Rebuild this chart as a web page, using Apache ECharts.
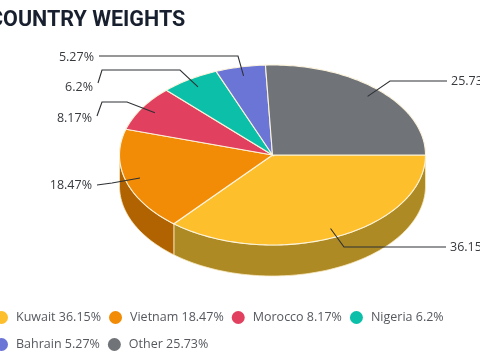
<!DOCTYPE html>
<html>
<head>
<meta charset="utf-8">
<style>
  html, body { margin: 0; padding: 0; background: #fff; }
  #chart { width: 480px; height: 360px; }
</style>
<script src="https://cdn.jsdelivr.net/npm/echarts@6/dist/echarts.min.js"></script>
</head>
<body>
<div id="chart"></div>
<script>
// chart data
const countries = ["Kuwait", "Vietnam", "Morocco", "Nigeria", "Bahrain", "Other"];
const weights = [36.15, 18.47, 8.17, 6.2, 5.27, 25.73];

// colours per slice
const topColors = ["#fdc02c", "#f28b05", "#e2405f", "#0bbfa9", "#6a75d6", "#707377"];
const sideColors = ["#ae8a24", "#b06300", "#a02c44", "#088a7a", "#4b5398", "#505255"];

// pie geometry (flattened disc)
const cx = 272.5, cy = 155, rx = 153, ry = 90, depth = 31;

// leader lines: elbow points after the slice anchor, then where the text sits
const leaders = [
  { points: [[344, 247], [446, 247]], text: [450, 247], align: "left" },
  { start: [140, 178], points: [[112, 183], [97, 185]], text: [92, 185], align: "right" },
  { points: [[127, 102], [102, 102], [97, 116]], text: [92, 118], align: "right" },
  { points: [[180, 70], [102, 70], [98, 83]], text: [93, 87], align: "right" },
  { points: [[238, 56], [99, 56]], text: [94, 57], align: "right" },
  { points: [[390, 81], [447, 81]], text: [451, 81], align: "left" },
];

const total = weights.reduce((a, b) => a + b, 0);

const toAngle = (v) => (v / total) * Math.PI * 2;
const rimPoint = (a, r = 1) => [cx + Math.cos(a) * rx * r, cy + Math.sin(a) * ry * r];

function arcPoints(a0, a1) {
  const steps = Math.max(2, Math.ceil((a1 - a0) / 0.02));
  const pts = [];
  for (let i = 0; i <= steps; i++) pts.push(rimPoint(a0 + ((a1 - a0) * i) / steps));
  return pts;
}

const renderSlice = (index) => (params, api) => {
  const value = api.value(0);
  const before = weights.slice(0, index).reduce((a, b) => a + b, 0);
  const a0 = toAngle(before);
  const a1 = a0 + toAngle(value);
  const children = [];

  // only the front half of the disc shows a wall
  const s0 = Math.min(a0, Math.PI);
  const s1 = Math.min(a1, Math.PI);
  if (s1 > s0) {
    const rim = arcPoints(s0, s1);
    const lower = rim.map((p) => [p[0], p[1] + depth]).reverse();
    children.push({
      type: "polygon",
      z2: 1,
      shape: { points: rim.concat(lower) },
      style: { fill: sideColors[index], stroke: "#f7e9c0", lineWidth: 0.8 },
    });
  }

  children.push({
    type: "polygon",
    z2: 2,
    shape: { points: [[cx, cy]].concat(arcPoints(a0, a1)) },
    style: { fill: topColors[index], stroke: "#fbf3dc", lineWidth: 1.1 },
  });

  // leader starts inside the slice at its mid angle unless given
  const leader = leaders[index];
  const start = leader.start || rimPoint((a0 + a1) / 2, 0.9);
  children.push({
    type: "polyline",
    z2: 3,
    shape: { points: [start].concat(leader.points) },
    style: { fill: null, stroke: "#2e3135", lineWidth: 1.1 },
  });
  children.push({
    type: "text",
    z2: 4,
    x: leader.text[0],
    y: leader.text[1],
    style: {
      text: value + "%",
      fill: "#36393e",
      font: "12.5px 'Open Sans'",
      align: leader.align,
      verticalAlign: "middle",
    },
  });

  return { type: "group", children };
};

const legendNames = countries.map((c, i) => c + " " + weights[i] + "%");

const chart = echarts.init(document.getElementById("chart"));
chart.setOption({
  animation: false,
  backgroundColor: "#fff",
  title: {
    text: "COUNTRY WEIGHTS",
    left: -16,
    top: 5,
    textStyle: { fontFamily: "Roboto", fontWeight: "bold", fontSize: 21.5, color: "#18202f" },
  },
  legend: {
    data: legendNames,
    left: -5,
    top: 308,
    width: 470,
    icon: "circle",
    itemWidth: 13,
    itemHeight: 13,
    itemGap: 8,
    padding: 0,
    selectedMode: false,
    textStyle: { fontFamily: "Open Sans", fontSize: 12.5, lineHeight: 19, color: "#55585e", padding: [0, 0, 0, 3] },
  },
  series: countries.map((c, i) => ({
    type: "custom",
    name: legendNames[i],
    coordinateSystem: "none",
    silent: true,
    itemStyle: { color: topColors[i] },
    data: [[weights[i]]],
    renderItem: renderSlice(i),
  })),
});
</script>
</body>
</html>
